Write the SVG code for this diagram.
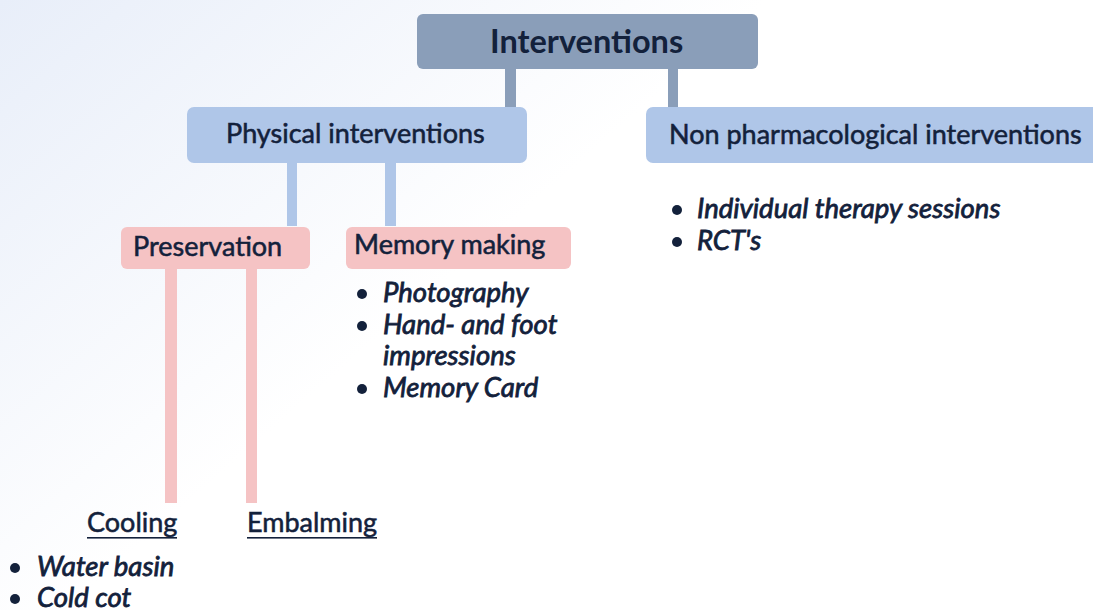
<svg xmlns="http://www.w3.org/2000/svg" width="1093" height="610" viewBox="0 0 1093 610">
<defs>
<linearGradient id="bg" gradientUnits="userSpaceOnUse" x1="0" y1="0" x2="330" y2="380">
<stop offset="0" stop-color="#e8eef9"/>
<stop offset="1" stop-color="#ffffff"/>
</linearGradient>
<style>
text{font-family:Lato,"Liberation Sans",sans-serif;fill:#13213b}
.t1{font-size:32.5px;font-weight:700}
.t2{font-size:27px;font-weight:400;stroke:#13213b;stroke-width:0.55px}
.li{font-size:27.5px;font-weight:400;font-style:italic;stroke:#13213b;stroke-width:0.8px}
.dot{fill:#13213b}
.gray{fill:#8a9eb9}
.blue{fill:#afc6e8}
.pink{fill:#f5c3c4}
</style>
</defs>
<rect width="1093" height="610" fill="url(#bg)"/>
<g id="connectors">
<rect class="gray" x="505" y="66" width="11" height="44"/>
<rect class="gray" x="668" y="66" width="10" height="44"/>
<rect class="blue" x="287" y="160" width="10" height="66"/>
<rect class="blue" x="385" y="160" width="11" height="66"/>
<rect class="pink" x="165" y="266" width="12" height="237"/>
<rect class="pink" x="246" y="266" width="11" height="237"/>
</g>
<g id="interventions">
<rect class="gray" x="417" y="14" width="341" height="55" rx="6"/>
<text class="t1" x="490" y="53">Interventions</text>
</g>
<g id="physical">
<rect class="blue" x="187" y="107" width="340" height="56" rx="7"/>
<text class="t2" x="226" y="143">Physical interventions</text>
</g>
<g id="nonpharm">
<rect class="blue" x="646" y="107" width="460" height="56" rx="7"/>
<text class="t2" x="669" y="144">Non pharmacological interventions</text>
<circle class="dot" cx="677" cy="210" r="5"/>
<text class="li" x="697" y="218">Individual therapy sessions</text>
<circle class="dot" cx="677" cy="242" r="5"/>
<text class="li" x="697" y="250">RCT's</text>
</g>
<g id="preservation">
<rect class="pink" x="121" y="227" width="189" height="42" rx="6"/>
<text class="t2" x="133" y="256">Preservation</text>
</g>
<g id="memory">
<rect class="pink" x="346" y="227" width="225" height="42" rx="6"/>
<text class="t2" x="354" y="254">Memory making</text>
<circle class="dot" cx="362" cy="294" r="5"/>
<text class="li" x="383" y="302">Photography</text>
<circle class="dot" cx="362" cy="326" r="5"/>
<text class="li" x="383" y="334">Hand- and foot</text>
<text class="li" x="383" y="365">impressions</text>
<circle class="dot" cx="362" cy="389" r="5"/>
<text class="li" x="383" y="397">Memory Card</text>
</g>
<g id="cooling">
<text class="t2" x="87" y="532">Cooling</text>
<rect x="87" y="537" width="90" height="1.6" fill="#13213b"/>
<circle class="dot" cx="15" cy="568" r="5"/>
<text class="li" x="37" y="576">Water basin</text>
<circle class="dot" cx="15" cy="599" r="5"/>
<text class="li" x="37" y="607">Cold cot</text>
</g>
<g id="embalming">
<text class="t2" x="247" y="532">Embalming</text>
<rect x="247" y="537" width="130" height="1.6" fill="#13213b"/>
</g>
</svg>
